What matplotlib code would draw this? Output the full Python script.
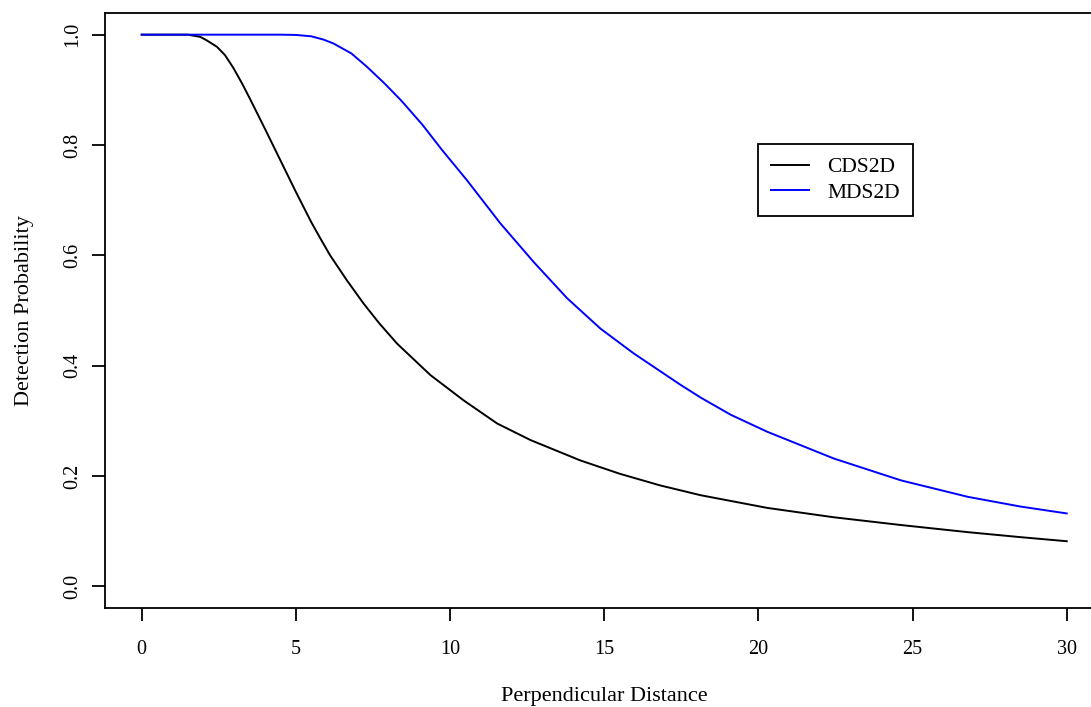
import matplotlib
matplotlib.use("Agg")
import matplotlib.pyplot as plt

plt.rcParams['font.family'] = ['Liberation Serif', 'DejaVu Serif']

# valeurs
cds_x = [0, 1.5, 1.9, 2.1, 2.44, 2.7, 2.97, 3.25, 3.5, 4.0, 4.5, 5.0, 5.5, 5.8,
         6.11, 6.65, 7.19, 7.7, 8.28, 9.36, 10.44, 11.53, 12.61, 14.23, 15.5, 16.8,
         18.13, 20.29, 22.45, 24.62, 26.8, 28.5, 30.0]
cds_y = [1.0, 1.0, 0.996, 0.99, 0.978, 0.963, 0.940, 0.912, 0.885, 0.829, 0.772,
         0.715, 0.660, 0.630, 0.600, 0.555, 0.513, 0.477, 0.440, 0.383, 0.337,
         0.295, 0.265, 0.228, 0.204, 0.183, 0.165, 0.142, 0.125, 0.111, 0.098,
         0.089, 0.0816]

mds_x = [0, 4.5, 5.0, 5.5, 5.9, 6.22, 6.8, 7.30, 7.85, 8.41, 9.1, 9.74, 10.55,
         11.63, 12.71, 13.80, 14.88, 15.96, 17.48, 18.13, 19.1, 20.29, 22.45,
         24.62, 26.8, 28.5, 30.0]
mds_y = [1.0, 1.0, 0.9995, 0.997, 0.991, 0.984, 0.966, 0.942, 0.913, 0.881, 0.837,
         0.791, 0.736, 0.658, 0.588, 0.522, 0.467, 0.422, 0.365, 0.342, 0.311,
         0.280, 0.2315, 0.192, 0.162, 0.1445, 0.132]

x_ticks = [0, 5, 10, 15, 20, 25, 30]
y_ticks = [0.0, 0.2, 0.4, 0.6, 0.8, 1.0]

W, H = 1091, 707
fig = plt.figure(figsize=(W / 100, H / 100), dpi=100)
ax = fig.add_axes([104.7 / W, 1 - 608.3 / H, (1103.7 - 104.7) / W, (608.3 - 12.6) / H])

ax.plot(cds_x, cds_y, color='black', lw=1.4, label='CDS2D')
ax.plot(mds_x, mds_y, color='blue', lw=1.4, label='MDS2D')

ax.set_xlim(-1.2, 31.2)
ax.set_ylim(-0.04, 1.04)
ax.set_xticks(x_ticks)
ax.set_xticklabels([str(t) for t in x_ticks])
ax.set_yticks(y_ticks)
ax.set_yticklabels([f"{t:.1f}" for t in y_ticks], rotation=90, va='center')

for s in ax.spines.values():
    s.set_linewidth(1.3)
ax.tick_params(length=9.4, width=1.3, labelsize=14.5)
ax.tick_params(axis='x', pad=13.5)
ax.tick_params(axis='y', pad=7)

ax.set_xlabel('Perpendicular Distance', fontsize=16, labelpad=20)
ax.set_ylabel('Detection Probability', fontsize=16, labelpad=21)

leg = ax.legend(loc='upper left', bbox_to_anchor=(758.3 / W, 1 - 144.3 / H),
                bbox_transform=fig.transFigure, borderaxespad=0, fancybox=False,
                edgecolor='black', framealpha=1, fontsize=15.5, handlelength=1.75,
                handletextpad=0.86, borderpad=0.6, labelspacing=0.25)
leg.get_frame().set_linewidth(1.3)

fig.savefig('out.png', dpi=100)
